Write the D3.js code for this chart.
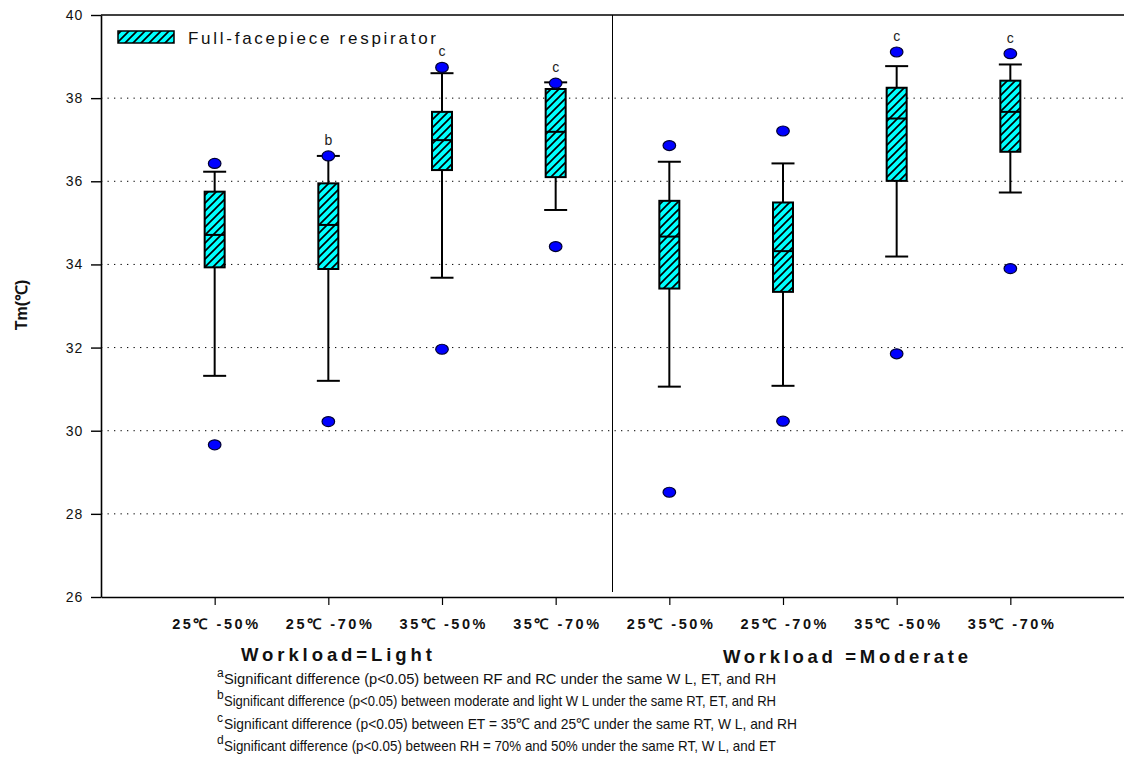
<!DOCTYPE html>
<html>
<head>
<meta charset="utf-8">
<script src="https://cdn.jsdelivr.net/npm/d3@7"></script>
<style>
  html, body { margin: 0; padding: 0; background: #fff; }
  svg { display: block; }
</style>
</head>
<body>
<svg id="chart" width="1124" height="769"></svg>
<script>
// ---------------- data ----------------
const categories = ["25℃ -50%", "25℃ -70%", "35℃ -50%", "35℃ -70%",
                    "25℃ -50%", "25℃ -70%", "35℃ -50%", "35℃ -70%"];
const workloads = ["Workload=Light", "Workload =Moderate"];
const outlierHigh = [36.43, 36.61, 38.74, 38.36, 36.86, 37.21, 39.11, 39.07];
const whiskerHigh = [36.23, 36.61, 38.60, 38.38, 36.47, 36.43, 38.77, 38.81];
const q3          = [35.75, 35.95, 37.67, 38.22, 35.53, 35.49, 38.25, 38.42];
const median      = [34.71, 34.95, 36.99, 37.19, 34.67, 34.32, 37.51, 37.67];
const q1          = [33.93, 33.89, 36.27, 36.10, 33.42, 33.34, 36.01, 36.71];
const whiskerLow  = [31.32, 31.20, 33.68, 35.31, 31.06, 31.08, 34.19, 35.73];
const outlierLow  = [29.66, 30.22, 31.96, 34.43, 28.52, 30.23, 31.85, 33.90];
const sigLabels   = ["", "b", "c", "c", "", "", "c", "c"];
const yTicks = [26, 28, 30, 32, 34, 36, 38, 40];
const gridValues = [28, 30, 32, 34, 36, 38];
const legendLabel = "Full-facepiece respirator";
const yTitle = "Tm(℃)";
const footnoteMarks = ["a", "b", "c", "d"];
const footnotes = [
  "Significant difference (p<0.05) between RF and RC under the same W L, ET, and RH",
  "Significant difference (p<0.05) between moderate and light W L under the same RT, ET, and RH",
  "Significant difference (p<0.05) between ET = 35℃  and 25℃  under the same RT, W L, and RH",
  "Significant difference (p<0.05) between RH = 70% and 50% under the same RT, W L, and ET"
];

// ---------------- layout ----------------
const svg = d3.select("#chart");
const pL = 101, pR = 1124, pT = 15, pB = 597;
const x = d3.scaleLinear().domain([0, 9]).range([pL, pR]);
const y = d3.scaleLinear().domain([26, 40]).range([pB, pT]);
const boxW = 20, capW = 23;

// hatch pattern
const defs = svg.append("defs");
const pat = defs.append("pattern")
  .attr("id", "hatch").attr("patternUnits", "userSpaceOnUse")
  .attr("width", 8).attr("height", 8);
pat.append("rect").attr("width", 8).attr("height", 8).attr("fill", "#00FFFF");
pat.append("path")
  .attr("d", "M-2,2 L2,-2 M0,8 L8,0 M6,10 L10,6")
  .attr("stroke", "#000").attr("stroke-width", 1.7);

// gridlines
svg.append("g").selectAll("line").data(gridValues).join("line")
  .attr("x1", pL).attr("x2", pR)
  .attr("y1", d => y(d)).attr("y2", d => y(d))
  .attr("stroke", "#000").attr("stroke-width", 1)
  .attr("stroke-dasharray", "1.3,5.2");

// top frame line
svg.append("line").attr("x1", pL).attr("x2", pR)
  .attr("y1", pT).attr("y2", pT)
  .attr("stroke", "#000").attr("stroke-width", 1.6);

// divider
svg.append("line").attr("x1", x(4.5)).attr("x2", x(4.5))
  .attr("y1", pT).attr("y2", pB - 5)
  .attr("stroke", "#000").attr("stroke-width", 1);

// y axis
const yAxis = svg.append("g").attr("transform", `translate(${pL},0)`)
  .call(d3.axisLeft(y).tickValues(yTicks).tickSize(10).tickSizeOuter(0).tickPadding(8));
yAxis.select(".domain").attr("stroke-width", 1.6);
yAxis.selectAll(".tick line").attr("stroke-width", 1.4);
yAxis.selectAll("text").attr("font-family", "Liberation Sans, Arial, sans-serif")
  .attr("font-size", 14).attr("fill", "#111").attr("letter-spacing", 0.8);

// x axis
const xAxis = svg.append("g").attr("transform", `translate(0,${pB})`)
  .call(d3.axisBottom(x).tickValues(d3.range(1, 9)).tickSize(8).tickSizeOuter(0)
    .tickFormat(d => categories[d - 1]).tickPadding(14));
xAxis.select(".domain").attr("stroke-width", 1.6);
xAxis.selectAll(".tick line").attr("stroke-width", 1.2);
xAxis.selectAll("text")
  .attr("font-family", "Liberation Sans, Arial, sans-serif")
  .attr("font-size", 14.5).attr("font-weight", "bold").attr("fill", "#111")
  .attr("textLength", 86).attr("lengthAdjust", "spacing")
  .attr("dy", "0.68em");

// boxes
const idx = d3.range(categories.length);
const g = svg.append("g");
g.selectAll("line.wh").data(idx).join("line").attr("class", "wh")
  .attr("x1", i => x(i + 1)).attr("x2", i => x(i + 1))
  .attr("y1", i => y(whiskerHigh[i])).attr("y2", i => y(q3[i]))
  .attr("stroke", "#000").attr("stroke-width", 2);
g.selectAll("line.wl").data(idx).join("line").attr("class", "wl")
  .attr("x1", i => x(i + 1)).attr("x2", i => x(i + 1))
  .attr("y1", i => y(q1[i])).attr("y2", i => y(whiskerLow[i]))
  .attr("stroke", "#000").attr("stroke-width", 2);
g.selectAll("line.ch").data(idx).join("line").attr("class", "ch")
  .attr("x1", i => x(i + 1) - capW / 2).attr("x2", i => x(i + 1) + capW / 2)
  .attr("y1", i => y(whiskerHigh[i])).attr("y2", i => y(whiskerHigh[i]))
  .attr("stroke", "#000").attr("stroke-width", 2);
g.selectAll("line.cl").data(idx).join("line").attr("class", "cl")
  .attr("x1", i => x(i + 1) - capW / 2).attr("x2", i => x(i + 1) + capW / 2)
  .attr("y1", i => y(whiskerLow[i])).attr("y2", i => y(whiskerLow[i]))
  .attr("stroke", "#000").attr("stroke-width", 2);
g.selectAll("rect.box").data(idx).join("rect").attr("class", "box")
  .attr("x", i => x(i + 1) - boxW / 2).attr("width", boxW)
  .attr("y", i => y(q3[i])).attr("height", i => y(q1[i]) - y(q3[i]))
  .attr("fill", "url(#hatch)").attr("stroke", "#000").attr("stroke-width", 2);
g.selectAll("line.med").data(idx).join("line").attr("class", "med")
  .attr("x1", i => x(i + 1) - boxW / 2).attr("x2", i => x(i + 1) + boxW / 2)
  .attr("y1", i => y(median[i])).attr("y2", i => y(median[i]))
  .attr("stroke", "#000").attr("stroke-width", 2);
const outs = idx.flatMap(i => [{i, v: outlierHigh[i]}, {i, v: outlierLow[i]}]);
g.selectAll("ellipse").data(outs).join("ellipse")
  .attr("cx", d => x(d.i + 1)).attr("cy", d => y(d.v))
  .attr("rx", 6.3).attr("ry", 5)
  .attr("fill", "#0000FF").attr("stroke", "#000033").attr("stroke-width", 1.2);
g.selectAll("text.sig").data(idx.filter(i => sigLabels[i])).join("text").attr("class", "sig")
  .attr("x", i => x(i + 1)).attr("y", i => y(outlierHigh[i]) - 11)
  .attr("text-anchor", "middle")
  .attr("font-family", "Liberation Sans, Arial, sans-serif").attr("font-size", 14)
  .attr("fill", "#222").text(i => sigLabels[i]);

// legend
svg.append("rect").attr("x", 118).attr("y", 31).attr("width", 56).attr("height", 12)
  .attr("fill", "url(#hatch)").attr("stroke", "#000").attr("stroke-width", 1.5);
svg.append("text").attr("x", 188).attr("y", 44)
  .attr("font-family", "Liberation Sans, Arial, sans-serif").attr("font-size", 17)
  .attr("fill", "#111").attr("textLength", 248).attr("lengthAdjust", "spacing")
  .text(legendLabel);

// y title
svg.append("text").attr("transform", "translate(27,305) rotate(-90)")
  .attr("text-anchor", "middle")
  .attr("font-family", "Liberation Sans, Arial, sans-serif").attr("font-size", 16)
  .attr("font-weight", "bold").attr("fill", "#111").text(yTitle);

// workload labels
const wlPos = [{x: 241, w: 191, yb: 661}, {x: 723, w: 245, yb: 663}];
svg.selectAll("text.wl").data(workloads).join("text").attr("class", "wl")
  .attr("x", (d, i) => wlPos[i].x).attr("y", (d, i) => wlPos[i].yb)
  .attr("font-family", "Liberation Sans, Arial, sans-serif").attr("font-size", 18.5)
  .attr("font-weight", "bold").attr("fill", "#111")
  .attr("textLength", (d, i) => wlPos[i].w).attr("lengthAdjust", "spacing")
  .text(d => d);

// footnotes
const fnEnds = [776, 776, 797, 776];
const fn = svg.append("g").attr("font-family", "Liberation Sans Narrow, Arial Narrow, Liberation Sans, Arial, sans-serif")
  .attr("fill", "#111");
footnotes.forEach((t, i) => {
  const yb = 684 + i * 22.4;
  fn.append("text").attr("x", 217).attr("y", yb - 7).attr("font-size", 12).text(footnoteMarks[i]);
  fn.append("text").attr("x", 224).attr("y", yb).attr("font-size", 15)
    .attr("textLength", fnEnds[i] - 224).attr("lengthAdjust", "spacingAndGlyphs").text(t);
});
</script>
</body>
</html>
